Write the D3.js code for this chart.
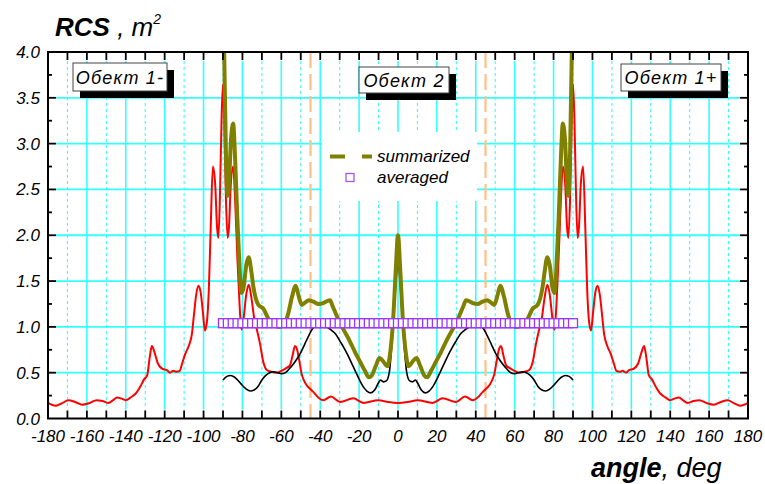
<!DOCTYPE html>
<html><head><meta charset="utf-8">
<script src="https://cdn.jsdelivr.net/npm/d3@7/dist/d3.min.js"></script>
<style>body{margin:0;background:#fff} svg{display:block}</style>
</head><body><svg id="c" width="765" height="484"></svg>
<script>
// ---------------- DATA ----------------
const xTickValues = [-180,-160,-140,-120,-100,-80,-60,-40,-20,0,20,40,60,80,100,120,140,160,180];
const yTickValues = [0,0.5,1,1.5,2,2.5,3,3.5,4];
const yTickLabels = ["0.0","0.5","1.0","1.5","2.0","2.5","3.0","3.5","4.0"];
const sectorBounds = [-45, 45];
const objectLabels = ["Обект 1-", "Обект 2", "Обект 1+"];
const seriesNames = ["summarized", "averaged"];

// red curve (single object RCS), -180..180
const redAngles = [-180,-176,-172.5,-169.5,-166,-162.5,-158.5,-155,-152,-149,-146.5,-144.5,-142.5,-140,-137.5,-135,-132.5,-130.5,-129,-127.8,-126.6,-125.2,-123.5,-121,-119,-117.3,-115.5,-114,-112.3,-111,-109.5,-107.5,-106,-105,-103.8,-102.7,-101.5,-100.3,-99.3,-98.3,-97.3,-96.3,-95.2,-94,-93.1,-92.4,-91.6,-90.7,-90,-89.4,-88.5,-87.6,-86.9,-86,-84.8,-83.7,-82.6,-81.5,-80.5,-79.5,-78,-76.8,-75.4,-74,-72.7,-71,-69.3,-67.5,-65,-62.5,-60,-57.5,-55.6,-54.3,-53,-52,-51,-49.6,-48,-46.5,-45,-43.6,-41,-38.4,-34.5,-29.8,-23,-17.8,-10.1,-5,
0,
5,10.1,17.8,23,29.8,34.5,38.4,41,43.6,45,46.5,48,49.6,51,52,53,54.3,55.6,57.5,60,62.5,65,67.5,69.3,71,72.7,74,75.4,76.8,78,79.5,80.5,81.5,82.6,83.7,84.8,86,86.9,87.6,88.5,89.4,90,90.7,91.6,92.4,93.1,94,95.2,96.3,97.3,98.3,99.3,100.3,101.5,102.7,103.8,105,106,107.5,109.5,111,112.3,114,115.5,117.3,119,121,123.5,125.2,126.6,127.8,129,130.5,132.5,135,137.5,140,142.5,144.5,146.5,149,152,155,158.5,162.5,166,169.5,172.5,176,180];
const redValues = [0.17,0.14,0.17,0.20,0.18,0.15,0.17,0.20,0.19,0.17,0.20,0.23,0.22,0.20,0.23,0.27,0.35,0.43,0.47,0.65,0.79,0.72,0.60,0.54,0.53,0.50,0.52,0.51,0.52,0.60,0.70,0.80,0.92,1.12,1.35,1.45,1.38,1.15,0.96,1.05,1.40,2.10,2.75,2.55,2.10,1.97,2.40,3.30,3.65,3.30,2.40,1.97,2.10,2.55,2.75,2.35,1.75,1.25,0.97,1.08,1.36,1.46,1.32,1.10,0.98,0.82,0.62,0.53,0.51,0.50,0.52,0.55,0.58,0.68,0.79,0.76,0.66,0.49,0.40,0.35,0.32,0.29,0.23,0.20,0.24,0.18,0.22,0.17,0.20,0.18,
0.17,
0.18,0.20,0.17,0.22,0.18,0.24,0.20,0.23,0.29,0.32,0.35,0.40,0.49,0.66,0.76,0.79,0.68,0.58,0.55,0.52,0.50,0.51,0.53,0.62,0.82,0.98,1.10,1.32,1.46,1.36,1.08,0.97,1.25,1.75,2.35,2.75,2.55,2.10,1.97,2.40,3.30,3.65,3.30,2.40,1.97,2.10,2.55,2.75,2.10,1.40,1.05,0.96,1.15,1.38,1.45,1.35,1.12,0.92,0.80,0.70,0.60,0.52,0.51,0.52,0.50,0.53,0.54,0.60,0.72,0.79,0.65,0.47,0.43,0.35,0.27,0.23,0.20,0.22,0.23,0.20,0.17,0.19,0.20,0.17,0.15,0.18,0.20,0.17,0.14,0.17];

// black curve, -90..90
const blackAngles = [-90,-88,-86,-84,-82,-80,-78,-76,-74,-72,-70,-68,-66,-64,-62,-60,-58,-56,-54,-52,-50,-48,-46,-44,-42,-40,-38,-36,-34,-32,-30,-28,-26,-24,-22,-20,-18,-16,-14,-12,-10,-9,-7.5,-6,-4.5,-3,-1.5,0,1.5,3,4.5,6,7.5,9,10,12,14,16,18,20,22,24,26,28,30,32,34,36,38,40,42,44,46,48,50,52,54,56,58,60,62,64,66,68,70,72,74,76,78,80,82,84,86,88,90];
const blackValues = [0.42,0.46,0.47,0.45,0.41,0.36,0.32,0.30,0.31,0.35,0.42,0.47,0.50,0.51,0.50,0.49,0.50,0.54,0.59,0.65,0.72,0.81,0.90,0.98,1.01,1.02,1.01,0.99,0.96,0.92,0.85,0.78,0.70,0.61,0.52,0.43,0.35,0.30,0.28,0.31,0.39,0.42,0.40,0.41,0.50,0.85,1.35,1.72,1.35,0.85,0.50,0.41,0.40,0.42,0.39,0.31,0.28,0.30,0.35,0.43,0.52,0.61,0.70,0.78,0.85,0.92,0.96,0.99,1.01,1.02,1.01,0.98,0.90,0.81,0.72,0.65,0.59,0.54,0.50,0.49,0.50,0.51,0.50,0.47,0.42,0.35,0.31,0.30,0.32,0.36,0.41,0.45,0.47,0.46,0.42];

// olive "summarized" curve, -90..90
const oliveAngles = [-90,-89.4,-88.5,-87.6,-86.9,-86,-84.8,-83.7,-82.6,-81.5,-80.5,-79.5,-78,-76.8,-75.4,-74.4,-71.8,-69.3,-66.7,-64,-61,-58,-56.4,-54.5,-52.6,-51,-49.5,-47.5,-46,-43,-41,-38.4,-36.5,-35,-33.5,-31.5,-28,-24.7,-22,-19.5,-17,-15,-13.5,-11.5,-9.5,-7.5,-5.5,-4,-2.5,-1.2,0,1.2,2.5,4,5.5,7.5,9.5,11.5,13.5,15,17,19.5,22,24.7,28,31.5,33.5,35,36.5,38.4,41,43,46,47.5,49.5,51,52.6,54.5,56.4,58,61,64,66.7,69.3,71.8,74.4,75.4,76.8,78,79.5,80.5,81.5,82.6,83.7,84.8,86,86.9,87.6,88.5,89.4,90];
const oliveValues = [4.3,4.0,2.9,2.43,2.57,3.0,3.22,2.80,2.17,1.66,1.37,1.42,1.68,1.76,1.60,1.44,1.24,1.20,1.09,1.02,1.00,1.05,1.15,1.33,1.45,1.33,1.24,1.27,1.29,1.27,1.25,1.26,1.28,1.29,1.22,1.12,0.97,0.84,0.72,0.62,0.52,0.45,0.47,0.57,0.66,0.62,0.57,0.72,1.08,1.60,2.0,1.60,1.08,0.72,0.57,0.62,0.66,0.57,0.47,0.45,0.52,0.62,0.72,0.84,0.97,1.12,1.22,1.29,1.28,1.26,1.25,1.27,1.29,1.27,1.24,1.33,1.45,1.33,1.15,1.05,1.00,1.02,1.09,1.20,1.24,1.44,1.60,1.76,1.68,1.42,1.37,1.66,2.17,2.80,3.22,3.0,2.57,2.43,2.9,4.0,4.3];

// purple "averaged" markers, -90..90
const avgAngles = [-90,-87.5,-85,-82.5,-80,-77.5,-75,-72.5,-70,-67.5,-65,-62.5,-60,-57.5,-55,-52.5,-50,-47.5,-45,-42.5,-40,-37.5,-35,-32.5,-30,-27.5,-25,-22.5,-20,-17.5,-15,-12.5,-10,-7.5,-5,-2.5,0,2.5,5,7.5,10,12.5,15,17.5,20,22.5,25,27.5,30,32.5,35,37.5,40,42.5,45,47.5,50,52.5,55,57.5,60,62.5,65,67.5,70,72.5,75,77.5,80,82.5,85,87.5,90];
const avgValue = 1.04;

// ---------------- DRAW ----------------
const svg = d3.select('#c');
const FONT = '"Liberation Sans", Arial, Helvetica, sans-serif';
const x = d3.scaleLinear().domain([-180,180]).range([48,748]);
const y = d3.scaleLinear().domain([0,4]).range([418.5,52]);
const CYAN = '#33ffff';

svg.append('defs').append('clipPath').attr('id','plot')
  .append('rect').attr('x',48).attr('y',52).attr('width',700).attr('height',366.5);

// grid
const grid = svg.append('g');
grid.selectAll('line.h').data(yTickValues.filter(v => v > 0 && v < 4)).join('line')
  .attr('x1', x(-180)+8).attr('x2', x(180)-8)
  .attr('y1', d => y(d)).attr('y2', d => y(d))
  .attr('stroke', CYAN).attr('stroke-width', 1.8);
grid.selectAll('line.v').data(d3.range(-170, 171, 10)).join('line')
  .attr('x1', d => x(d)).attr('x2', d => x(d))
  .attr('y1', y(4)+9).attr('y2', y(0)-9)
  .attr('stroke', CYAN)
  .attr('stroke-width', d => d % 20 === 0 ? 1.6 : 1.1)
  .attr('stroke-dasharray', d => d % 20 === 0 ? null : '3,3');

// legend background
svg.append('rect').attr('x',322).attr('y',132).attr('width',155).attr('height',69).attr('fill','#fff');

// sector boundaries
svg.append('g').selectAll('line').data(sectorBounds).join('line')
  .attr('x1', d => x(d)).attr('x2', d => x(d)).attr('y1', y(4)).attr('y2', y(0))
  .attr('stroke', '#ffc088').attr('stroke-width', 2.2).attr('stroke-dasharray', '16,6');

const plot = svg.append('g').attr('clip-path', 'url(#plot)');
const mk = (angles, values) => angles.map((a, i) => [a, values[i]]);
const line = d3.line().x(d => x(d[0])).y(d => y(d[1])).curve(d3.curveMonotoneX);

plot.append('path').datum(mk(redAngles, redValues)).attr('d', line)
  .attr('fill','none').attr('stroke','#ff0000').attr('stroke-width',2).attr('stroke-linejoin','round');
plot.append('path').datum(mk(blackAngles, blackValues)).attr('d', line)
  .attr('fill','none').attr('stroke','#000').attr('stroke-width',1.6);
plot.append('path').datum(mk(oliveAngles, oliveValues)).attr('d', line)
  .attr('fill','none').attr('stroke','#808000').attr('stroke-width',4).attr('stroke-linejoin','round');

// averaged markers
const SQ = 9;
plot.append('g').selectAll('rect').data(avgAngles).join('rect')
  .attr('x', d => x(d) - SQ/2).attr('y', y(avgValue) - SQ/2)
  .attr('width', SQ).attr('height', SQ)
  .attr('fill', '#fff').attr('stroke', '#9933ff').attr('stroke-width', 1.3);

// object label boxes
const boxes = [
  {t: objectLabels[0], x: 73, y: 63, w: 94, h: 28},
  {t: objectLabels[1], x: 359, y: 67, w: 90, h: 26},
  {t: objectLabels[2], x: 621, y: 64, w: 100, h: 27}
];
const bg = svg.append('g').selectAll('g').data(boxes).join('g');
bg.append('rect').attr('x', d => d.x+7).attr('y', d => d.y+7).attr('width', d => d.w).attr('height', d => d.h).attr('fill','#000');
bg.append('rect').attr('x', d => d.x).attr('y', d => d.y).attr('width', d => d.w).attr('height', d => d.h)
  .attr('fill','#fff').attr('stroke','#444').attr('stroke-width',1);
bg.append('text').attr('x', d => d.x + d.w/2).attr('y', d => d.y + d.h/2 + 6.5)
  .attr('text-anchor','middle').attr('font-family', FONT).attr('font-style','italic')
  .attr('font-size', 18).attr('letter-spacing', 1.2).text(d => d.t);

// legend
svg.append('line').attr('x1',330).attr('x2',372).attr('y1',156.5).attr('y2',156.5)
  .attr('stroke','#808000').attr('stroke-width',4).attr('stroke-dasharray','15,17');
svg.append('rect').attr('x',346).attr('y',173.5).attr('width',8).attr('height',8)
  .attr('fill','#fff').attr('stroke','#a855f7').attr('stroke-width',1.3);
svg.append('g').selectAll('text').data(seriesNames).join('text')
  .attr('x', 377).attr('y', (d, i) => 162 + i*21)
  .attr('font-family', FONT).attr('font-style','italic').attr('font-size',17)
  .text(d => d);

// axes frame and ticks
const ax = svg.append('g').attr('stroke','#000');
ax.append('rect').attr('x',48).attr('y',52).attr('width',700).attr('height',366.5)
  .attr('fill','none').attr('stroke-width',2);
const xt = d3.range(-170, 171, 10);
ax.selectAll('line.xb').data(xt).join('line')
  .attr('x1', d => x(d)).attr('x2', d => x(d)).attr('y1', y(0)).attr('y2', y(0)-8).attr('stroke-width',1.8);
ax.selectAll('line.xt').data(xt).join('line')
  .attr('x1', d => x(d)).attr('x2', d => x(d)).attr('y1', y(4)).attr('y2', y(4)+8).attr('stroke-width',1.8);
const yt = d3.range(0.25, 4, 0.25);
ax.selectAll('line.yl').data(yt).join('line')
  .attr('x1', x(-180)).attr('x2', d => x(-180) + (Math.abs(d*2 - Math.round(d*2)) < 1e-6 ? 8 : 4))
  .attr('y1', d => y(d)).attr('y2', d => y(d)).attr('stroke-width',1.8);
ax.selectAll('line.yr').data(yt).join('line')
  .attr('x1', x(180)).attr('x2', d => x(180) - (Math.abs(d*2 - Math.round(d*2)) < 1e-6 ? 8 : 4))
  .attr('y1', d => y(d)).attr('y2', d => y(d)).attr('stroke-width',1.8);

// tick labels
svg.append('g').selectAll('text').data(xTickValues).join('text')
  .attr('x', d => x(d)).attr('y', 442).attr('text-anchor','middle')
  .attr('font-family', FONT).attr('font-style','italic').attr('font-size',17)
  .text(d => String(d));
svg.append('g').selectAll('text').data(yTickValues).join('text')
  .attr('x', 40).attr('y', d => y(d) + 6).attr('text-anchor','end')
  .attr('font-family', FONT).attr('font-style','italic').attr('font-size',17)
  .text((d, i) => yTickLabels[i]);

// axis titles
const yt1 = svg.append('text').attr('x',55).attr('y',36).attr('font-family',FONT).attr('font-style','italic').attr('font-size',26);
yt1.append('tspan').attr('font-weight','bold').text('RCS');
yt1.append('tspan').text(' , m');
yt1.append('tspan').attr('font-size',14).attr('dy',-12).text('2');

const xt1 = svg.append('text').attr('x',591).attr('y',477).attr('font-family',FONT).attr('font-style','italic').attr('font-size',27);
xt1.append('tspan').attr('font-weight','bold').text('angle');
xt1.append('tspan').text(', deg');
</script>
</body></html>
